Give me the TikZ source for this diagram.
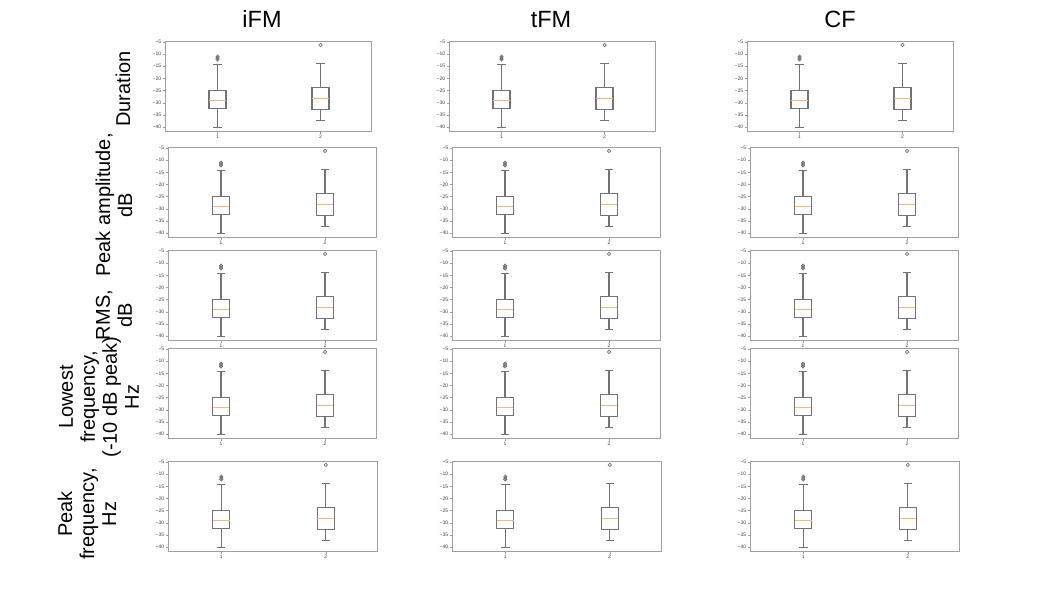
\documentclass[tikz,border=0pt]{standalone}
\usepackage{fontspec}
\setmainfont{Liberation Sans}
\definecolor{framegray}{RGB}{160,160,160}
\definecolor{boxgray}{RGB}{115,115,115}
\definecolor{medorange}{RGB}{250,180,120}

\newcommand{\boxwhisker}[6]{%
  \draw[whisk] (#1-4.2,#2) -- (#1+4.2,#2);
  \draw[whisk] (#1,#2) -- (#1,#3);
  \draw[whisk] (#1-8.5,#3) rectangle (#1+8.5,#5);
  \draw[medline] (#1-8.3,#4) -- (#1+8.3,#4);
  \draw[whisk] (#1,#5) -- (#1,#6);
  \draw[whisk] (#1-4.2,#6) -- (#1+4.2,#6);
}

\begin{document}
\begin{tikzpicture}[x=1pt,y=-1pt,
  frame/.style={draw=framegray,line width=0.8pt},
  whisk/.style={draw=boxgray,line width=1.15pt},
  medline/.style={draw=medorange,line width=0.9pt},
  flier/.style={draw=boxgray,line width=0.7pt},
  ticklab/.style={font=\fontsize{5}{5}\selectfont,text=black!75,inner sep=0.6pt},
  coltitle/.style={font=\fontsize{23.5}{26}\selectfont,anchor=base},
  rowlab/.style={font=\fontsize{20}{22}\selectfont,rotate=90,align=center}]
  \useasboundingbox (0,0) rectangle (1058,595);

  \node[coltitle] (ifm) at (262,27) {iFM};
  \node[coltitle] (tfm) at (551,27) {tFM};
  \node[coltitle] (cf) at (840,27) {CF};

  \node[rowlab] (dur) at (123,89) {Duration};
  \node[rowlab] (pamp) at (114,205) {Peak amplitude,\\dB};
  \node[rowlab] (rms) at (114,315) {RMS,\\dB};
  \node[rowlab] (lowf) at (99,397) {Lowest\\frequency,\\(-10 dB peak)\\Hz};
  \node[rowlab] (pkf) at (87,514) {Peak\\frequency,\\Hz};

  \foreach \r/\ty/\off/\pw in {1/41/0/206, 2/147/3/208, 3/250/3/208, 4/348/3/208, 5/461/3/209} {
    \foreach \c/\lx in {1/165, 2/449, 3/747} {
      \begin{scope}[shift={(\lx+\off,\ty-11.15)}, y=2.43pt]
        \draw[frame] (0,-4.59) rectangle (\pw,-41.63);
        \foreach \n in {5,10,...,40} {
          \draw[frame,line width=0.5pt] (0,-\n) -- (-2.5,-\n);
          \node[ticklab,anchor=east] (y-\r-\c-\n) at (-3,-\n) {−\n};
        }
        \pgfmathsetmacro{\ca}{0.255*\pw}
        \pgfmathsetmacro{\cb}{0.755*\pw}
        \draw[frame,line width=0.5pt] (\ca,-41.63) -- (\ca,-42.7);
        \draw[frame,line width=0.5pt] (\cb,-41.63) -- (\cb,-42.7);
        \node[ticklab,anchor=north] (x-\r-\c-1) at (\ca,-43) {1};
        \node[ticklab,anchor=north] (x-\r-\c-2) at (\cb,-43) {2};
        \boxwhisker{\ca}{-40.2}{-32.3}{-29}{-24.9}{-14.2}
        \boxwhisker{\cb}{-37.4}{-32.8}{-28.3}{-23.7}{-13.8}
        \foreach \ov in {-11.0,-11.6,-12.2}
          \draw[flier] (\ca,\ov) circle[radius=1.6pt];
        \draw[flier] (\cb,-6.2) circle[radius=1.7pt];
      \end{scope}
    }
  }
\end{tikzpicture}
\end{document}
